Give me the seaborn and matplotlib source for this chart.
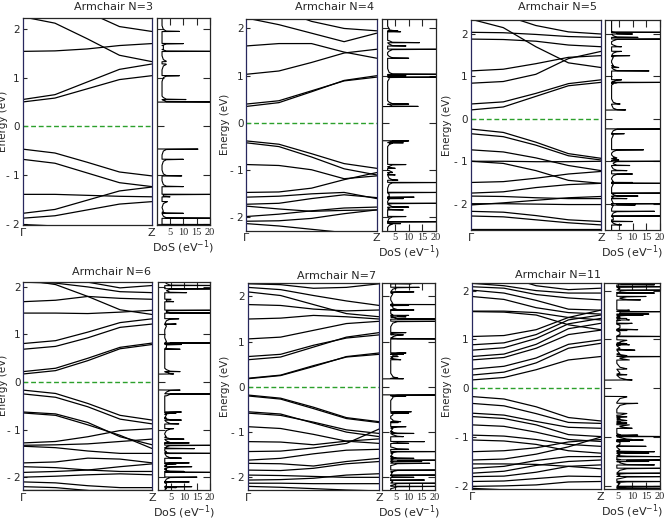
import numpy as np
import pandas as pd
import matplotlib
matplotlib.use("Agg")
import matplotlib.pyplot as plt
import seaborn as sns

sns.set_style("ticks")
plt.rcParams["font.family"] = ["DejaVu Sans"]

# k path from Gamma (0) to Z (1), bands read at these points
k_points = [0.0, 0.25, 0.5, 0.75, 1.0]

titles = ["Armchair N=3", "Armchair N=4", "Armchair N=5",
          "Armchair N=6", "Armchair N=7", "Armchair N=11"]

# band energies (eV) at k_points
bands_n3 = [
    [0.50, 0.58, 0.77, 0.96, 1.04], [0.55, 0.65, 0.91, 1.17, 1.28],
    [1.54, 1.55, 1.59, 1.66, 1.70], [2.25, 2.12, 1.80, 1.46, 1.33],
    [2.60, 2.52, 2.35, 2.05, 1.95],
    [-0.47, -0.55, -0.74, -0.94, -1.02], [-0.68, -0.76, -0.96, -1.16, -1.24],
    [-1.40, -1.40, -1.42, -1.44, -1.45], [-1.79, -1.71, -1.52, -1.33, -1.25],
    [-1.89, -1.84, -1.72, -1.60, -1.55], [-2.02, -2.05, -2.12, -2.21, -2.25],
]
bands_n4 = [
    [0.35, 0.43, 0.66, 0.90, 1.00], [0.40, 0.47, 0.68, 0.89, 0.97],
    [1.03, 1.10, 1.28, 1.48, 1.56], [1.63, 1.68, 1.68, 1.50, 1.37],
    [2.22, 2.08, 1.90, 1.72, 1.90], [2.60, 2.40, 2.15, 2.00, 1.95],
    [-0.38, -0.45, -0.65, -0.86, -0.96], [-0.42, -0.50, -0.72, -0.97, -1.10],
    [-0.88, -0.90, -0.99, -1.18, -1.12], [-1.47, -1.46, -1.38, -1.20, -1.05],
    [-1.57, -1.55, -1.50, -1.47, -1.60], [-1.72, -1.70, -1.60, -1.52, -1.58],
    [-1.76, -1.82, -1.87, -1.85, -1.84], [-1.98, -1.93, -1.86, -1.80, -1.78],
    [-2.08, -2.07, -2.02, -1.92, -1.84], [-2.13, -2.18, -2.25, -2.32, -2.35],
]
bands_n5 = [
    [0.21, 0.28, 0.53, 0.78, 0.86], [0.35, 0.40, 0.60, 0.83, 0.92],
    [1.13, 1.17, 1.30, 1.45, 1.49], [0.84, 0.88, 1.05, 1.42, 1.59],
    [1.88, 1.87, 1.83, 1.74, 1.70], [2.04, 2.03, 1.99, 1.94, 1.92],
    [2.35, 2.15, 1.70, 1.32, 1.21], [2.60, 2.45, 2.20, 2.05, 2.00],
    [-0.24, -0.32, -0.55, -0.82, -0.93], [-0.35, -0.42, -0.62, -0.87, -0.97],
    [-0.73, -0.78, -0.92, -1.10, -1.22], [-1.00, -1.00, -1.01, -1.01, -1.00],
    [-1.00, -1.05, -1.22, -1.45, -1.52], [-1.50, -1.48, -1.40, -1.30, -1.24],
    [-1.75, -1.72, -1.62, -1.55, -1.52], [-1.82, -1.83, -1.86, -1.88, -1.88],
    [-2.03, -1.98, -1.92, -1.86, -1.83], [-2.00, -2.00, -2.01, -2.02, -2.02],
    [-2.18, -2.20, -2.28, -2.38, -2.42], [-2.29, -2.31, -2.38, -2.45, -2.50],
    [-2.60, -2.60, -2.60, -2.60, -2.60],
]
bands_n6 = [
    [0.17, 0.24, 0.45, 0.70, 0.79], [0.22, 0.29, 0.50, 0.73, 0.82],
    [0.69, 0.75, 0.93, 1.15, 1.22], [0.81, 0.87, 1.05, 1.25, 1.33],
    [1.45, 1.45, 1.44, 1.47, 1.51], [1.69, 1.72, 1.80, 1.76, 1.74],
    [2.15, 2.05, 1.80, 1.52, 1.42], [2.40, 2.30, 2.10, 1.98, 2.03],
    [2.10, 2.08, 2.00, 1.90, 1.88],
    [-0.17, -0.24, -0.45, -0.70, -0.80], [-0.25, -0.32, -0.52, -0.78, -0.88],
    [-0.63, -0.67, -0.85, -1.15, -1.32], [-0.65, -0.70, -0.90, -1.12, -1.40],
    [-1.28, -1.25, -1.15, -1.02, -0.98], [-1.33, -1.32, -1.30, -1.25, -1.20],
    [-1.35, -1.38, -1.45, -1.50, -1.50], [-1.70, -1.68, -1.60, -1.62, -1.70],
    [-1.78, -1.80, -1.85, -1.88, -1.88], [-1.90, -1.88, -1.85, -1.78, -1.72],
    [-2.00, -1.98, -1.95, -1.93, -1.95], [-2.10, -2.12, -2.18, -2.22, -2.22],
    [-2.20, -2.22, -2.28, -2.35, -2.40], [-2.28, -2.28, -2.28, -2.28, -2.28],
]
bands_n7 = [
    [0.18, 0.25, 0.45, 0.67, 0.75], [0.19, 0.26, 0.47, 0.66, 0.72],
    [0.60, 0.66, 0.88, 1.10, 1.20], [0.67, 0.72, 0.92, 1.08, 1.15],
    [1.06, 1.10, 1.25, 1.40, 1.45], [1.50, 1.52, 1.58, 1.55, 1.50],
    [1.82, 1.80, 1.72, 1.68, 1.70], [2.10, 2.02, 1.82, 1.62, 1.55],
    [2.20, 2.15, 2.02, 1.90, 1.80], [2.28, 2.26, 2.18, 2.20, 2.28],
    [-0.18, -0.25, -0.45, -0.68, -0.77], [-0.20, -0.27, -0.48, -0.70, -0.79],
    [-0.55, -0.60, -0.80, -1.00, -1.10], [-0.58, -0.63, -0.78, -0.95, -1.03],
    [-0.88, -0.92, -1.05, -1.20, -1.25], [-1.21, -1.22, -1.28, -1.20, -1.15],
    [-1.43, -1.42, -1.35, -1.25, -0.93], [-1.62, -1.58, -1.48, -1.40, -1.38],
    [-1.69, -1.70, -1.75, -1.65, -1.58], [-1.84, -1.85, -1.80, -1.70, -1.65],
    [-1.95, -1.96, -1.98, -2.00, -2.00], [-2.06, -2.05, -2.02, -1.95, -1.92],
    [-2.13, -2.13, -2.14, -2.14, -2.14], [-2.20, -2.22, -2.25, -2.28, -2.30],
]
bands_n11 = [
    [0.17, 0.22, 0.38, 0.58, 0.65], [0.27, 0.33, 0.52, 0.82, 0.92],
    [0.39, 0.45, 0.62, 0.90, 0.99], [0.58, 0.63, 0.82, 1.10, 1.19],
    [0.65, 0.70, 0.90, 1.22, 1.33], [0.78, 0.83, 1.02, 1.32, 1.43],
    [0.89, 0.93, 1.10, 1.40, 1.50], [1.06, 1.08, 1.20, 1.45, 1.60],
    [1.57, 1.56, 1.50, 1.30, 1.20], [1.58, 1.58, 1.55, 1.45, 1.40],
    [1.88, 1.82, 1.65, 1.55, 1.52], [2.01, 1.95, 1.80, 1.62, 1.60],
    [2.08, 2.05, 1.92, 1.85, 1.81], [2.15, 2.10, 2.00, 1.95, 1.95],
    [2.40, 2.30, 2.10, 2.02, 2.05],
    [-0.17, -0.22, -0.38, -0.60, -0.67], [-0.31, -0.36, -0.52, -0.70, -0.72],
    [-0.51, -0.55, -0.68, -0.80, -0.82], [-0.58, -0.62, -0.75, -0.95, -0.99],
    [-0.75, -0.78, -0.90, -1.05, -1.09], [-0.96, -0.98, -1.05, -1.15, -1.19],
    [-1.06, -1.08, -1.15, -1.28, -1.33], [-1.30, -1.28, -1.22, -1.10, -1.05],
    [-1.47, -1.45, -1.35, -1.20, -1.00], [-1.64, -1.60, -1.48, -1.40, -1.40],
    [-1.74, -1.70, -1.58, -1.50, -1.47], [-1.81, -1.80, -1.72, -1.60, -1.57],
    [-1.91, -1.90, -1.85, -1.80, -1.81], [-2.01, -2.00, -1.98, -1.92, -1.91],
    [-2.05, -2.08, -2.12, -2.15, -2.15], [-1.55, -1.55, -1.56, -1.60, -1.65],
]

# DoS peaks: (energy, height in eV^-1, side of tail: +1 above, -1 below)
dos_n3 = [(0.50, 25, 1), (0.55, 11, 1), (1.04, 8.5, -1), (1.28, 3.5, -1),
          (1.54, 25, 1), (1.70, 10, -1), (1.33, 3.5, 1), (1.95, 8.5, 1),
          (-0.47, 15.5, -1), (-0.68, 10, -1), (-1.02, 9.4, 1), (-1.24, 10, 1),
          (-1.40, 25, -1), (-1.45, 5, 1), (-1.55, 4, -1), (-1.79, 10, 1),
          (-1.89, 25, 1), (-2.02, 25, -1)]
dos_n4 = [(0.35, 13.5, 1), (0.40, 10, 1), (0.97, 25, -1), (1.00, 9, -1),
          (1.03, 25, 1), (1.56, 25, -1), (1.37, 10, 1), (1.63, 9, 1),
          (1.70, 14, 1), (1.93, 7, 1), (1.95, 6, 1),
          (-0.38, 10, -1), (-0.42, 8, -1), (-0.88, 9, -1), (-0.96, 5, 1),
          (-1.10, 5, 1), (-1.05, 4, 1), (-1.21, 6, 1), (-1.26, 25, -1),
          (-1.47, 25, -1), (-1.57, 12, -1), (-1.60, 8, 1), (-1.70, 25, -1),
          (-1.78, 10, 1), (-1.84, 8, 1), (-1.98, 9, -1), (-2.09, 25, -1),
          (-2.13, 7, -1)]
dos_n5 = [(0.21, 7.5, 1), (0.35, 5.5, 1), (0.86, 25, -1), (0.92, 6, -1),
          (0.84, 4, 1), (1.13, 16, 1), (1.49, 9, -1), (1.59, 6, -1),
          (1.21, 5, 1), (1.70, 6, 1), (1.88, 25, -1), (2.04, 25, -1),
          (1.92, 12, 1), (2.00, 10, 1),
          (-0.24, 25, -1), (-0.35, 7, -1), (-0.73, 14, -1), (-0.93, 4, 1),
          (-0.97, 5, 1), (-1.00, 25, -1), (-1.10, 9, 1), (-1.22, 8, 1),
          (-1.30, 10, -1), (-1.52, 25, 1), (-1.50, 10, -1), (-1.75, 25, -1),
          (-1.82, 12, 1), (-1.88, 8, 1), (-2.00, 25, -1), (-2.03, 11, 1),
          (-2.18, 18, -1), (-2.29, 25, -1), (-2.42, 10, 1), (-2.50, 6, 1)]
dos_n6 = [(0.17, 6, 1), (0.22, 8.5, 1), (0.79, 9, -1), (0.82, 25, -1),
          (0.69, 8.5, 1), (0.81, 5, 1), (1.22, 7, -1), (1.33, 8, -1),
          (1.45, 25, 1), (1.51, 25, -1), (1.69, 6, 1), (1.74, 5, -1),
          (1.88, 11, 1), (1.96, 25, -1), (2.03, 25, 1),
          (-0.17, 8.5, -1), (-0.25, 25, -1), (-0.63, 9, -1), (-0.65, 7, -1),
          (-0.80, 9, 1), (-0.88, 8, 1), (-0.98, 6, -1), (-1.20, 10, 1),
          (-1.28, 12, 1), (-1.33, 25, -1), (-1.40, 14, 1), (-1.50, 25, 1),
          (-1.70, 12, -1), (-1.60, 9, 1), (-1.78, 13, -1), (-1.88, 10, 1),
          (-1.72, 7, -1), (-1.90, 25, 1), (-2.00, 15, -1), (-2.10, 12, -1),
          (-2.20, 13, -1), (-2.22, 7, 1)]
dos_n7 = [(0.18, 8, 1), (0.19, 6, 1), (0.72, 8, -1), (0.75, 9, -1),
          (0.60, 7, 1), (0.67, 6, 1), (1.06, 25, 1), (1.15, 8, -1),
          (1.20, 9, -1), (1.45, 25, -1), (1.50, 25, 1), (1.58, 10, -1),
          (1.70, 12, 1), (1.82, 25, -1), (1.55, 9, 1), (1.80, 10, 1),
          (2.10, 12, -1), (2.20, 14, -1), (2.28, 11, 1),
          (-0.18, 25, -1), (-0.20, 9, -1), (-0.55, 11, -1), (-0.58, 10, -1),
          (-0.77, 7, 1), (-0.79, 6, 1), (-0.88, 9, -1), (-1.03, 12, 1),
          (-1.10, 8, 1), (-1.21, 16, -1), (-1.25, 10, 1), (-1.43, 25, -1),
          (-1.38, 10, 1), (-1.62, 25, -1), (-1.69, 18, -1), (-1.58, 12, 1),
          (-1.84, 22, -1), (-1.65, 15, 1), (-1.95, 25, -1), (-2.06, 16, -1),
          (-2.13, 25, -1), (-2.20, 25, -1), (-2.00, 12, 1)]
dos_n11 = [(0.17, 10, 1), (0.27, 6, 1), (0.39, 7, 1), (0.58, 9, 1),
           (0.65, 25, -1), (0.66, 7, 1), (0.78, 11, 1), (0.89, 9, 1),
           (0.92, 7, -1), (0.99, 6, -1), (1.06, 25, 1), (1.19, 8, -1),
           (1.20, 12, 1), (1.33, 10, -1), (1.40, 9, 1), (1.43, 8, -1),
           (1.50, 14, -1), (1.52, 16, 1), (1.57, 25, -1), (1.60, 9, -1),
           (1.81, 13, 1), (1.88, 15, -1), (1.95, 18, 1), (2.01, 25, -1),
           (2.08, 20, -1), (2.12, 18, 1),
           (-0.17, 8, -1), (-0.31, 12, -1), (-0.51, 6, -1), (-0.58, 8, -1),
           (-0.67, 6, 1), (-0.72, 7, 1), (-0.75, 9, -1), (-0.82, 10, 1),
           (-0.96, 12, -1), (-0.99, 25, 1), (-1.05, 10, 1), (-1.06, 14, -1),
           (-1.09, 9, 1), (-1.19, 15, 1), (-1.30, 18, 1), (-1.33, 16, 1),
           (-1.40, 20, 1), (-1.47, 25, -1), (-1.50, 16, 1), (-1.57, 18, 1),
           (-1.64, 20, -1), (-1.74, 25, -1), (-1.81, 22, -1), (-1.91, 25, -1),
           (-2.01, 25, -1), (-2.05, 20, -1)]

band_gaps = [(-0.47, 0.50), (-0.38, 0.35), (-0.24, 0.21),
             (-0.17, 0.17), (-0.18, 0.18), (-0.17, 0.17)]
dos_base = [2.0, 2.2, 2.4, 2.6, 3.2, 4.5]
ylims = [(-2.03, 2.22), (-2.28, 2.2), (-2.62, 2.33),
         (-2.27, 2.11), (-2.28, 2.29), (-2.07, 2.15)]

all_bands = [bands_n3, bands_n4, bands_n5, bands_n6, bands_n7, bands_n11]
all_dos = [dos_n3, dos_n4, dos_n5, dos_n6, dos_n7, dos_n11]

# pixel boxes: band (left, top, right, bottom), dos (left, right)
W, H = 664, 523
band_px = [(22.7, 18.3, 151.7, 225), (246.3, 19, 376.7, 230.7), (470.7, 20, 601, 230),
           (23.3, 281.7, 152.3, 490), (247.7, 283.3, 379.3, 490), (471.7, 283.3, 600.7, 489.3)]
dos_px = [(156.7, 210), (381.7, 435.7), (605, 660),
          (158, 210), (382.3, 435), (604.3, 660)]
title_px = [(113, 7), (335, 7), (558, 7), (112, 272), (337, 276), (558, 275)]
ylabel_px = [8.5, 230, 452, 8.5, 230, 452]
spine_blue = "#28285e"


def dos_line(peaks, gap, base, lo, hi):
    pts = [(lo, base), (hi, base)]
    for e, h, s in peaks:
        back = e - s * 0.003
        lev = 0 if gap[0] < back < gap[1] else base
        pts += [(back, lev), (e, h), (e + s * 0.008, 1.8 * base),
                (e + s * 0.04, 1.25 * base), (e + s * 0.12, base)]
    pts += [(gap[0] + 0.004, 0), (gap[1] - 0.004, 0)]
    pts = [p for p in pts if not (gap[0] + 0.004 < p[0] < gap[1] - 0.004)]
    pts.sort()
    return [p[0] for p in pts], [p[1] for p in pts]


fig = plt.figure(figsize=(6.64, 5.23), dpi=100)
yt = [-2, -1, 0, 1, 2]
ytl = ["- 2", "- 1", "0", "1", "2"]

for i in range(6):
    l, t, r, b = band_px[i]
    ax = fig.add_axes([l / W, 1 - b / H, (r - l) / W, (b - t) / H])
    rows = []
    for j, band in enumerate(all_bands[i]):
        for kk, e in zip(k_points, band):
            rows.append({"band": j, "k": kk, "E": e})
    df = pd.DataFrame(rows)
    sns.lineplot(data=df, x="k", y="E", units="band", estimator=None,
                 color="black", lw=0.9, ax=ax, legend=False)
    ax.axhline(0, color="#2ca02c", lw=1.0, ls=(0, (3.5, 2)))
    ax.set_xlim(0, 1)
    ax.set_ylim(*ylims[i])
    ax.set_xticks([0, 1], ["Γ", "Z"])
    ax.set_yticks(yt, ytl)
    ax.tick_params(axis="x", length=0, labelsize=8, pad=2)
    ax.tick_params(axis="y", direction="in", left=True, right=False,
                   length=3, labelsize=7.5, pad=2)
    ax.set_xlabel("")
    ax.set_ylabel("Energy (eV)", fontsize=7.5)
    ax.yaxis.set_label_coords((ylabel_px[i] - l) / (r - l), 0.5)
    for sp in ax.spines.values():
        sp.set_visible(True)
        sp.set_linewidth(0.9)
    ax.spines["left"].set_color(spine_blue)
    ax.spines["right"].set_color(spine_blue)

    dl, dr = dos_px[i]
    ax2 = fig.add_axes([dl / W, 1 - b / H, (dr - dl) / W, (b - t) / H])
    de, dx = dos_line(all_dos[i], band_gaps[i], dos_base[i], ylims[i][0], ylims[i][1])
    sns.lineplot(x=dx, y=de, sort=False, estimator=None, color="black",
                 lw=0.8, ax=ax2)
    ax2.set_xlim(0, 20)
    ax2.set_ylim(*ylims[i])
    ax2.set_yticks(yt, [])
    ax2.set_xticks([5, 10, 15, 20])
    ax2.set_xticklabels(["5", "10", "15", "20"], family="Liberation Serif", fontsize=7.5)
    ax2.tick_params(axis="y", direction="in", left=True, right=True, length=5)
    ax2.tick_params(axis="x", direction="in", top=True, bottom=True, length=5, pad=2)
    ax2.set_xlabel("DoS (eV$^{-1}$)", fontsize=8, labelpad=1)
    ax2.set_ylabel("")
    for sp in ax2.spines.values():
        sp.set_visible(True)
        sp.set_linewidth(0.9)

    tx, ty = title_px[i]
    fig.text(tx / W, 1 - ty / H, titles[i], ha="center", va="center", fontsize=8)

fig.savefig("out.png", dpi=100)
